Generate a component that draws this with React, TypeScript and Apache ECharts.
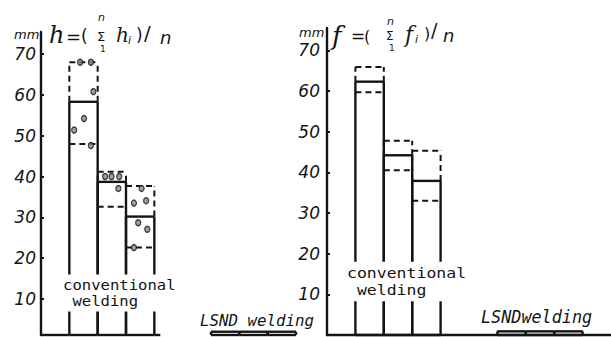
import React, { useEffect, useRef } from 'react';
import * as echarts from 'echarts';

// ---- data ----
const yTicks = [10, 20, 30, 40, 50, 60, 70];
const groupNames = ['conventional welding', 'LSND welding'];
const convSlots = [1, 2, 3];
const lsndSlots = [6, 7, 8];

// left panel: h = (sum h_i)/n
const hMean = [58.3, 38.7, 30.2];
const hMax = [68.0, 41.2, 37.7];
const hMin = [48.0, 32.6, 22.6];
const hLsnd = [2.0, 2.0, 2.0];
const hDotX = [1.38, 1.76, 1.85, 1.52, 1.17, 1.76, 2.26, 2.49, 2.76, 2.73, 3.55, 3.28, 3.71, 3.43, 3.75, 3.28];
const hDotY = [68.0, 68.0, 60.8, 54.2, 51.4, 47.6, 40.0, 40.0, 40.0, 37.1, 37.1, 33.5, 34.1, 28.7, 27.1, 22.6];

// right panel: f = (sum f_i)/n
const fMean = [62.3, 44.2, 37.9];
const fMax = [65.9, 47.8, 45.3];
const fMin = [59.7, 40.5, 33.0];
const fLsnd = [0.9, 0.9, 0.9];

const INK = '#141414';

function rows(slots: number[], lo: number[], mean: number[], hi: number[]) {
  return slots.map((s, i) => [s, lo[i], mean[i], hi[i]]);
}

function makeBox(extendBase: boolean, count: number) {
  return (params: any, api: any) => {
    const slot = api.value(0);
    const lo = api.value(1);
    const mean = api.value(2);
    const hi = api.value(3);
    const cs = params.coordSys;
    const baseY = cs.y + cs.height;
    const pM = api.coord([slot, mean]);
    const pR = api.coord([slot + 1, mean]);
    const x0 = pM[0];
    const x1 = pR[0];
    const yM = pM[1];
    const yHi = api.coord([slot, hi])[1];
    const yLo = api.coord([slot, lo])[1];
    const solid = { stroke: INK, lineWidth: 2.4, fill: null };
    const dash = { stroke: INK, lineWidth: 2, lineDash: [6, 4], fill: null };
    const seg = (a: number, b: number, c: number, d: number, style: any) => ({
      type: 'line', shape: { x1: a, y1: b, x2: c, y2: d }, style,
    });
    const children: any[] = [
      seg(x0, baseY, x0, yM, solid),
      seg(x1, baseY, x1, yM, solid),
      seg(x0, yM, x1, yM, solid),
      seg(x0, baseY, x1, baseY, solid),
    ];
    if (hi > mean + 0.01) {
      children.push(seg(x0, yM, x0, yHi, dash), seg(x1, yM, x1, yHi, dash), seg(x0, yHi, x1, yHi, dash));
    }
    if (lo < mean - 0.01) children.push(seg(x0, yLo, x1, yLo, dash));
    if (extendBase && params.dataIndex === 0) children.push(seg(cs.x, baseY, x0, baseY, solid));
    if (extendBase && params.dataIndex === count - 1) children.push(seg(x1, baseY, x1 + 6, baseY, solid));
    return { type: 'group', children };
  };
}

const numLabel = (pad: number) => ({
  customValues: yTicks,
  color: INK,
  fontSize: 17,
  fontStyle: 'italic',
  fontFamily: 'DejaVu Sans',
  padding: [pad, 0, 0, 0],
});

function txt(x: number, y: number, text: string, size: number, extra: any = {}, el: any = {}) {
  return {
    type: 'text', x, y, z: 100, ...el,
    style: {
      text, fontSize: size, fontFamily: 'DejaVu Sans', fill: INK,
      align: 'left', verticalAlign: 'middle', ...extra,
    },
  };
}

export default function App() {
  const ref = useRef<HTMLDivElement>(null);
  useEffect(() => {
    if (!ref.current) return;
    const chart = echarts.init(ref.current, null, { renderer: 'svg' });
    const mono = 'DejaVu Sans Mono';
    const serif = 'DejaVu Serif';
    chart.setOption({
      animation: false,
      backgroundColor: '#ffffff',
      grid: [
        { left: 41, top: 32, width: 255, height: 303 },
        { left: 327, top: 28, width: 284, height: 307 },
      ],
      xAxis: [
        { type: 'value', gridIndex: 0, min: 0, max: 9, show: false },
        {
          type: 'value', gridIndex: 1, min: 0, max: 10,
          axisLine: { show: true, lineStyle: { color: INK, width: 2.4 } },
          axisTick: { show: false }, axisLabel: { show: false }, splitLine: { show: false },
        },
      ],
      yAxis: [
        {
          type: 'value', gridIndex: 0, min: 1.2, max: 75.4,
          axisLine: { show: true, lineStyle: { color: INK, width: 2.4 } },
          axisTick: { show: true, inside: true, length: 3, customValues: yTicks, lineStyle: { color: INK, width: 2 } },
          axisLabel: { ...numLabel(7), margin: 5 },
          splitLine: { show: false },
        },
        {
          type: 'value', gridIndex: 1, min: 0, max: 75.5,
          axisLine: { show: true, lineStyle: { color: INK, width: 2.4 } },
          axisTick: { show: true, inside: true, length: 3, customValues: yTicks, lineStyle: { color: INK, width: 2 } },
          axisLabel: { ...numLabel(3), margin: 7 },
          splitLine: { show: false },
        },
      ],
      series: [
        {
          name: 'h ' + groupNames[0], type: 'custom', xAxisIndex: 0, yAxisIndex: 0,
          renderItem: makeBox(true, convSlots.length),
          encode: { x: 0, y: 2 },
          data: rows(convSlots, hMin, hMean, hMax),
        },
        {
          name: 'h ' + groupNames[1], type: 'custom', xAxisIndex: 0, yAxisIndex: 0,
          renderItem: makeBox(false, lsndSlots.length),
          encode: { x: 0, y: 2 },
          data: rows(lsndSlots, hLsnd, hLsnd, hLsnd),
        },
        {
          name: 'h_i', type: 'scatter', xAxisIndex: 0, yAxisIndex: 0,
          symbol: 'circle', symbolSize: [5, 6], z: 5,
          itemStyle: { color: '#8a8a8a', borderColor: INK, borderWidth: 1.3 },
          data: hDotX.map((x, i) => [x, hDotY[i]]),
        },
        {
          name: 'f ' + groupNames[0], type: 'custom', xAxisIndex: 1, yAxisIndex: 1,
          renderItem: makeBox(false, convSlots.length),
          encode: { x: 0, y: 2 },
          data: rows(convSlots, fMin, fMean, fMax),
        },
        {
          name: 'f ' + groupNames[1], type: 'custom', xAxisIndex: 1, yAxisIndex: 1,
          renderItem: makeBox(false, lsndSlots.length),
          encode: { x: 0, y: 2 },
          data: rows(lsndSlots, fLsnd, fLsnd, fLsnd),
        },
      ],
      graphic: [
        // units
        txt(14, 34, 'mm', 13, { fontStyle: 'italic' }),
        txt(299, 32, 'mm', 13, { fontStyle: 'italic' }),
        // left formula
        txt(49, 35, 'h', 24, { fontStyle: 'italic', fontFamily: serif }),
        txt(66, 36, '=', 18),
        txt(81, 36, '(', 17),
        txt(97, 36, 'Σ', 13),
        txt(98, 17, 'n', 11, { fontStyle: 'italic' }),
        txt(100, 49, '1', 9),
        txt(116, 35, 'h', 20, { fontStyle: 'italic', fontFamily: serif }),
        txt(128, 40, 'i', 11, { fontStyle: 'italic' }),
        txt(136, 35, ')', 17),
        txt(144, 33, '/', 20),
        txt(160, 37, 'n', 18, { fontStyle: 'italic' }),
        // right formula
        txt(332, 36, 'f', 26, { fontStyle: 'italic', fontFamily: serif }),
        txt(351, 36, '=', 17),
        txt(364, 36, '(', 16),
        txt(386, 36, 'Σ', 12),
        txt(387, 21, 'n', 11, { fontStyle: 'italic' }),
        txt(389, 48, '1', 9),
        txt(405, 34, 'f', 22, { fontStyle: 'italic', fontFamily: serif }),
        txt(415, 39, 'i', 11, { fontStyle: 'italic' }),
        txt(424, 33, ')', 16),
        txt(431, 30, '/', 19),
        txt(443, 35, 'n', 18, { fontStyle: 'italic' }),
        // group labels (white backgrounds break the bar lines as in the drawing)
        txt(60, 293, 'conventional\n welding', 15.6,
          { fontFamily: mono, lineHeight: 18.6, backgroundColor: '#fff', padding: [3, 3, 3, 3] },
          { scaleY: 0.86 }),
        txt(344, 281.5, 'conventional\n welding', 16.5,
          { fontFamily: mono, lineHeight: 19.6, backgroundColor: '#fff', padding: [3, 3, 3, 3] },
          { scaleY: 0.87 }),
        txt(200, 320, 'LSND welding', 15.8, { fontFamily: mono, fontStyle: 'italic' }),
        txt(481, 317, 'LSNDwelding', 16.8, { fontFamily: mono, fontStyle: 'italic' }),
      ],
    });
    return () => chart.dispose();
  }, []);
  return <div ref={ref} style={{ position: 'absolute', left: 0, top: 0, width: 611, height: 337 }} />;
}
